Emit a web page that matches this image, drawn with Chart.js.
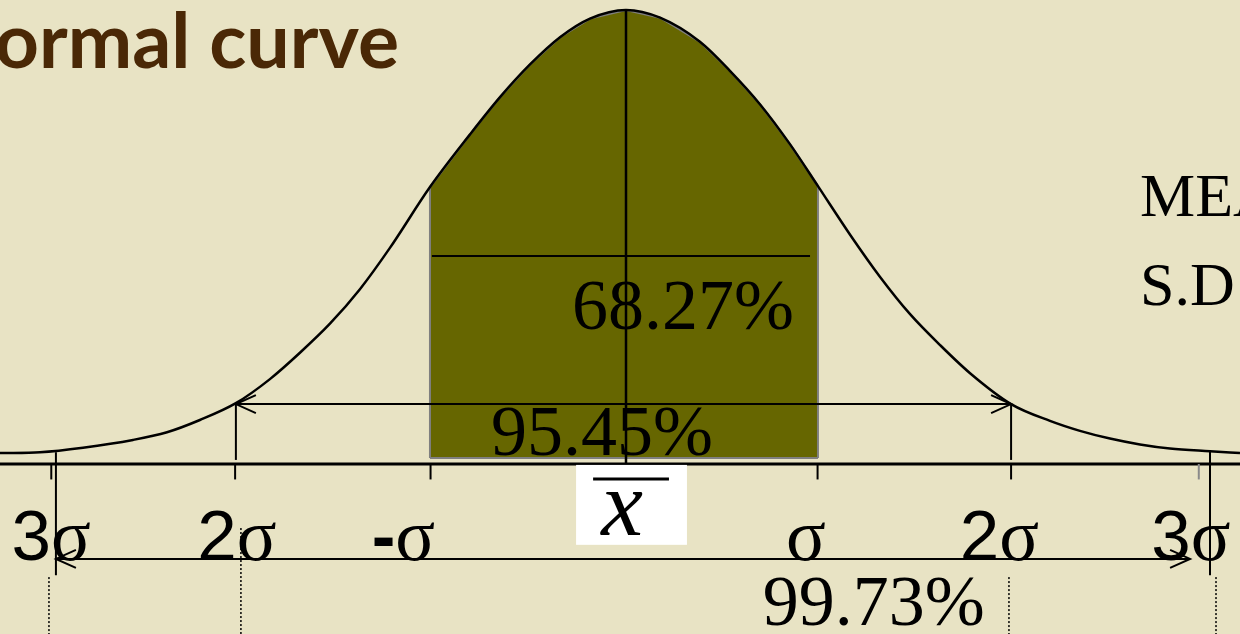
<!DOCTYPE html>
<html>
<head>
<meta charset="utf-8">
<title>Normal curve</title>
<script src="https://cdn.jsdelivr.net/npm/chart.js@4.4.1/dist/chart.umd.min.js"></script>
<style>
  html, body { margin: 0; padding: 0; background: #e8e3c4; overflow: hidden; }
  #wrap { width: 1240px; height: 634px; position: relative; }
</style>
</head>
<body>
<div id="wrap"><canvas id="normalChart" width="1240" height="634"></canvas></div>
<script>
// Curve sampled in sigma units (x) and height relative to the peak (y)
const curveZ = [-3.235, -3.028, -2.806, -2.548, -2.372, -2.202, -2.016, -1.840, -1.685, -1.530,
  -1.375, -1.220, -1.013, -0.806, -0.651, -0.496, -0.341, -0.186, 0, 0.176, 0.382, 0.537,
  0.693, 0.848, 0.992, 1.158, 1.313, 1.468, 1.623, 1.778, 1.990, 2.191, 2.346, 2.501,
  2.656, 2.811, 3.018, 3.173];
const curveHeight = [0.024, 0.026, 0.036, 0.053, 0.070, 0.097, 0.134, 0.187, 0.245, 0.309,
  0.385, 0.476, 0.610, 0.726, 0.808, 0.880, 0.940, 0.981, 1.000, 0.983, 0.930, 0.866,
  0.792, 0.704, 0.612, 0.505, 0.412, 0.330, 0.262, 0.200, 0.132, 0.095, 0.073, 0.056,
  0.043, 0.034, 0.028, 0.024];

// Sigma marks under the axis
const sigmaTicks = [-2.97, -2.02, -1.01, 0.99, 1.99, 2.96];
const sigmaLabels = ['3σ', '2σ', '-σ', 'σ', '2σ', '3σ'];

// Area percentages for ±1σ, ±2σ, ±3σ
const bandLabels = ['68.27%', '95.45%', '99.73%'];

const shadeFrom = -1.013;
const shadeTo = 0.992;
const shadeBase = 0.013;

const curvePoints = curveZ.map((z, i) => ({ x: z, y: curveHeight[i] }));
const shadePoints = [{ x: shadeFrom, y: shadeBase }]
  .concat(curvePoints.filter(p => p.x >= shadeFrom && p.x <= shadeTo))
  .concat([{ x: shadeTo, y: shadeBase }]);

const SERIF = '"Liberation Serif", "Times New Roman", serif';
const SANS = '"Liberation Sans", Arial, sans-serif';

function arrowHead(ctx, x, y, dir) {
  ctx.beginPath();
  ctx.moveTo(x + dir * 20, y - 9);
  ctx.lineTo(x, y);
  ctx.lineTo(x + dir * 20, y + 9);
  ctx.stroke();
}

function hLine(ctx, x1, x2, y) {
  ctx.beginPath();
  ctx.moveTo(x1, y);
  ctx.lineTo(x2, y);
  ctx.stroke();
}

function vLine(ctx, x, y1, y2) {
  ctx.beginPath();
  ctx.moveTo(x, y1);
  ctx.lineTo(x, y2);
  ctx.stroke();
}

const slideDecor = {
  id: 'slideDecor',
  beforeDraw(chart) {
    const ctx = chart.ctx;
    ctx.save();
    ctx.fillStyle = '#e8e3c4';
    ctx.fillRect(0, 0, chart.width, chart.height);
    ctx.restore();
  },
  afterDatasetsDraw(chart) {
    const { ctx, scales: { x, y } } = chart;
    const px = v => x.getPixelForValue(v);
    const py = v => y.getPixelForValue(v);
    const W = chart.width;
    const H = chart.height;

    ctx.save();
    ctx.lineCap = 'butt';

    // grey bottom edge of the shaded band
    ctx.strokeStyle = '#7f7f7f';
    ctx.lineWidth = 2;
    hLine(ctx, px(shadeFrom), px(shadeTo), py(shadeBase));

    ctx.strokeStyle = '#000';

    // mean line from the peak down to the axis
    ctx.lineWidth = 2.5;
    vLine(ctx, px(0), py(curveHeight[curveZ.indexOf(0)]), py(0));

    // 68.27% bar across the shaded band
    ctx.lineWidth = 2;
    hLine(ctx, px(-1.003), px(0.951), py(0.458));

    // 95.45% double arrow with its end posts
    hLine(ctx, px(-2.016), px(1.99), py(0.132));
    arrowHead(ctx, px(-2.016), py(0.132), 1);
    arrowHead(ctx, px(1.99), py(0.132), -1);
    vLine(ctx, px(-2.016), py(0.132), py(0.009));
    vLine(ctx, px(1.99), py(0.132), py(0.009));

    // horizontal axis
    ctx.lineWidth = 3;
    hLine(ctx, 0, W, py(0));

    // ticks
    ctx.lineWidth = 2;
    sigmaTicks.forEach((t, i) => {
      ctx.strokeStyle = i === sigmaTicks.length - 1 ? '#8a8a8a' : '#000';
      vLine(ctx, px(t), py(0), py(-0.034));
    });
    ctx.strokeStyle = '#000';

    // ±3σ posts and the 99.73% double arrow
    vLine(ctx, px(-2.946), py(0.026), py(-0.245));
    vLine(ctx, px(3.018), py(0.028), py(-0.245));
    hLine(ctx, px(-2.946), px(2.915), py(-0.209));
    arrowHead(ctx, px(-2.946), py(-0.209), 1);
    arrowHead(ctx, px(2.915), py(-0.209), -1);

    // dotted guides at the bottom
    ctx.lineWidth = 1.5;
    ctx.setLineDash([2, 2]);
    vLine(ctx, px(-2.982), py(-0.249), H);
    vLine(ctx, px(-1.99), py(-0.141), H);
    vLine(ctx, px(1.979), py(-0.249), H);
    vLine(ctx, px(3.049), py(-0.249), H);
    ctx.setLineDash([]);

    // x-bar box
    ctx.fillStyle = '#fff';
    ctx.fillRect(px(-0.258), py(-0.002), px(0.315) - px(-0.258), py(-0.178) - py(-0.002));
    ctx.fillStyle = '#000';
    ctx.textAlign = 'center';
    ctx.textBaseline = 'alphabetic';
    ctx.font = 'italic 94px ' + SERIF;
    ctx.fillText('x', px(-0.02), py(-0.157));
    ctx.lineWidth = 3;
    hLine(ctx, px(-0.170), px(0.222), py(-0.033));

    // percentage labels
    ctx.font = '72px ' + SERIF;
    ctx.fillText(bandLabels[0], px(0.295), py(0.297));
    ctx.fillText(bandLabels[1], px(-0.124), py(0.02));
    ctx.fillText(bandLabels[2], px(1.28), py(-0.355));

    // sigma labels: digit/minus in sans, sigma in serif
    const labelZ = [-2.97, -2.01, -1.15, 0.93, 1.93, 2.92];
    ctx.textAlign = 'left';
    sigmaLabels.forEach((lab, i) => {
      const pre = lab.slice(0, -1);
      const sansFont = (pre === '-' ? 'bold ' : '') + '71px ' + SANS;
      ctx.font = sansFont;
      const wPre = ctx.measureText(pre).width;
      ctx.font = '74px ' + SERIF;
      const wSig = ctx.measureText('σ').width;
      const left = px(labelZ[i]) - (wPre + wSig) / 2;
      ctx.font = sansFont;
      ctx.fillText(pre, left, py(-0.212));
      ctx.font = '74px ' + SERIF;
      ctx.fillText('σ', left + wPre, py(-0.212));
    });

    // slide text
    ctx.font = '62px ' + SERIF;
    ctx.fillText('MEAN', 1140, 216);
    ctx.fillText('S.D', 1140, 305);

    ctx.fillStyle = '#4a2806';
    ctx.font = 'bold 77px "Comic Sans MS", Lato, sans-serif';
    ctx.textAlign = 'right';
    ctx.fillText('Normal curve', 399, 68);

    ctx.restore();
  }
};

new Chart(document.getElementById('normalChart'), {
  type: 'line',
  data: {
    datasets: [
      {
        label: 'Normal curve',
        data: curvePoints,
        borderColor: '#000',
        borderWidth: 2.5,
        pointRadius: 0,
        fill: false,
        cubicInterpolationMode: 'monotone'
      },
      {
        label: '±1σ',
        data: shadePoints,
        borderColor: '#7f7f7f',
        borderWidth: 2,
        backgroundColor: '#666600',
        pointRadius: 0,
        fill: { value: shadeBase },
        tension: 0
      }
    ]
  },
  options: {
    responsive: false,
    animation: false,
    devicePixelRatio: 1,
    layout: { padding: 0 },
    plugins: {
      legend: { display: false },
      tooltip: { enabled: false }
    },
    scales: {
      x: { type: 'linear', min: -3.235, max: 3.173, display: false },
      y: { type: 'linear', min: -0.3744, max: 1.022, display: false }
    }
  },
  plugins: [slideDecor]
});
</script>
</body>
</html>
